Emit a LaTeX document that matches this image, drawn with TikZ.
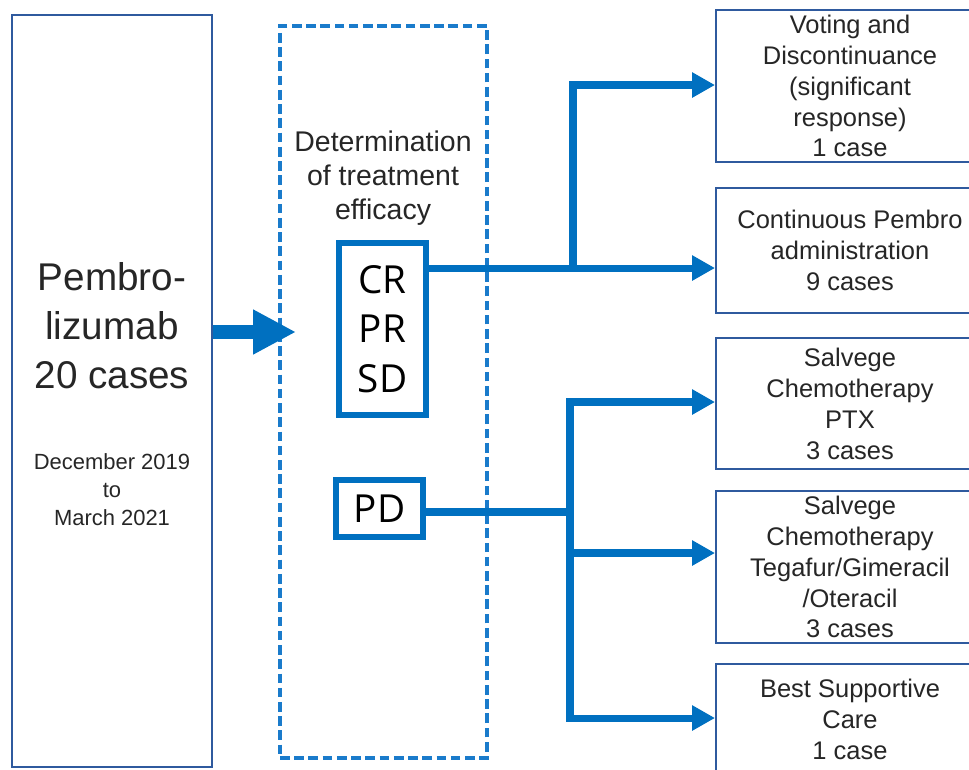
\documentclass[tikz,border=0pt]{standalone}
\usepackage{fontspec}
\setmainfont{Liberation Sans}
\newfontfamily\resfont{Open Sans}
\usetikzlibrary{arrows.meta, positioning, calc}
\definecolor{frameblue}{HTML}{2F5A9E}
\definecolor{flowblue}{HTML}{0070C0}
\definecolor{dashblue}{HTML}{1A7BCB}
\definecolor{txtgray}{HTML}{262626}

\begin{document}
\begin{tikzpicture}[
    outcome/.style={draw=frameblue, line width=1.1pt, rectangle, minimum width=5.36cm, inner sep=0pt, align=center, text=txtgray, font=\fontsize{14.5}{17.6}\selectfont},
    resbox/.style={draw=flowblue, line width=3.4pt, rectangle, minimum width=1.74cm, inner sep=0pt, align=center, font=\resfont\fontsize{22}{28}\selectfont},
    flow/.style={draw=flowblue, line width=4pt},
    flowarrow/.style={flow, -{Triangle[length=0.46cm, width=0.48cm]}}
]
    \useasboundingbox (0,0) rectangle (19.38,-15.38);

    % patients
    \node[draw=frameblue, line width=1.2pt, rectangle, minimum width=4cm, minimum height=15.04cm] (cohort) at (2.24,-7.82) {};
    \node[align=center, text=txtgray, font=\fontsize{22}{27.8}\selectfont] (drug) at (2.24,-6.52) {Pembro-\\lizumab\\20 cases};
    \node[align=center, text=txtgray, font=\fontsize{12.5}{16}\selectfont] (period) at (2.24,-9.8) {December 2019\\to\\March 2021};

    % evaluation
    \node[draw=dashblue, line width=2pt, dash pattern=on 5.5pt off 2.6pt, rectangle, minimum width=4.14cm, minimum height=14.64cm] (judge) at (7.67,-7.84) {};
    \node[align=center, text=txtgray, font=\fontsize{16.2}{19.5}\selectfont] (efficacy) at (7.66,-3.56) {Determination\\of treatment\\efficacy};
    \node[resbox, minimum height=3.44cm] (crbox) at (7.65,-6.58) {CR\\PR\\SD};
    \node[resbox, minimum height=1.14cm] (pdbox) at (7.59,-10.17) {PD};

    \coordinate (arrowtip) at (5.92,-6.64);
    \draw[line width=8.5pt, draw=flowblue, -{Triangle[length=0.86cm, width=0.84cm]}] (cohort.east |- arrowtip) -- (arrowtip);

    % outcomes
    \node[outcome, minimum height=3.04cm] (stop) at (17.0,-1.72) {Voting and\\Discontinuance\\(significant\\response)\\1 case};
    \node[outcome, minimum height=2.5cm] (cont) at (17.0,-5.01) {Continuous Pembro\\administration\\9 cases};
    \node[outcome, minimum height=2.62cm] (ptx) at (17.0,-8.07) {Salvege\\Chemotherapy\\PTX\\3 cases};
    \node[outcome, minimum height=3.04cm] (sone) at (17.0,-11.34) {Salvege\\Chemotherapy\\Tegafur/Gimeracil\\/Oteracil\\3 cases};
    \node[outcome, minimum height=2.2cm] (bsc) at (17.0,-14.38) {Best Supportive\\Care\\1 case};

    % responders
    \coordinate (crout) at ([yshift=-0.56cm]crbox.north east);
    \coordinate (crfork) at ([xshift=2.88cm]crout);
    \draw[flow] (crout) -- (crfork);
    \draw[flowarrow] (crfork) -- (crfork -| cont.west);
    \draw[flowarrow] (crfork) |- ([yshift=0.02cm]stop.west);

    % progression
    \coordinate (pdfork) at (11.4,-10.24);
    \draw[flow] (pdbox.east |- pdfork) -- (pdfork);
    \draw[flowarrow] (pdfork) |- ([yshift=0.03cm]ptx.west);
    \draw[flowarrow] (pdfork) |- ([yshift=0.28cm]sone.west);
    \draw[flowarrow] (pdfork) |- ([yshift=0.02cm]bsc.west);
\end{tikzpicture}
\end{document}
